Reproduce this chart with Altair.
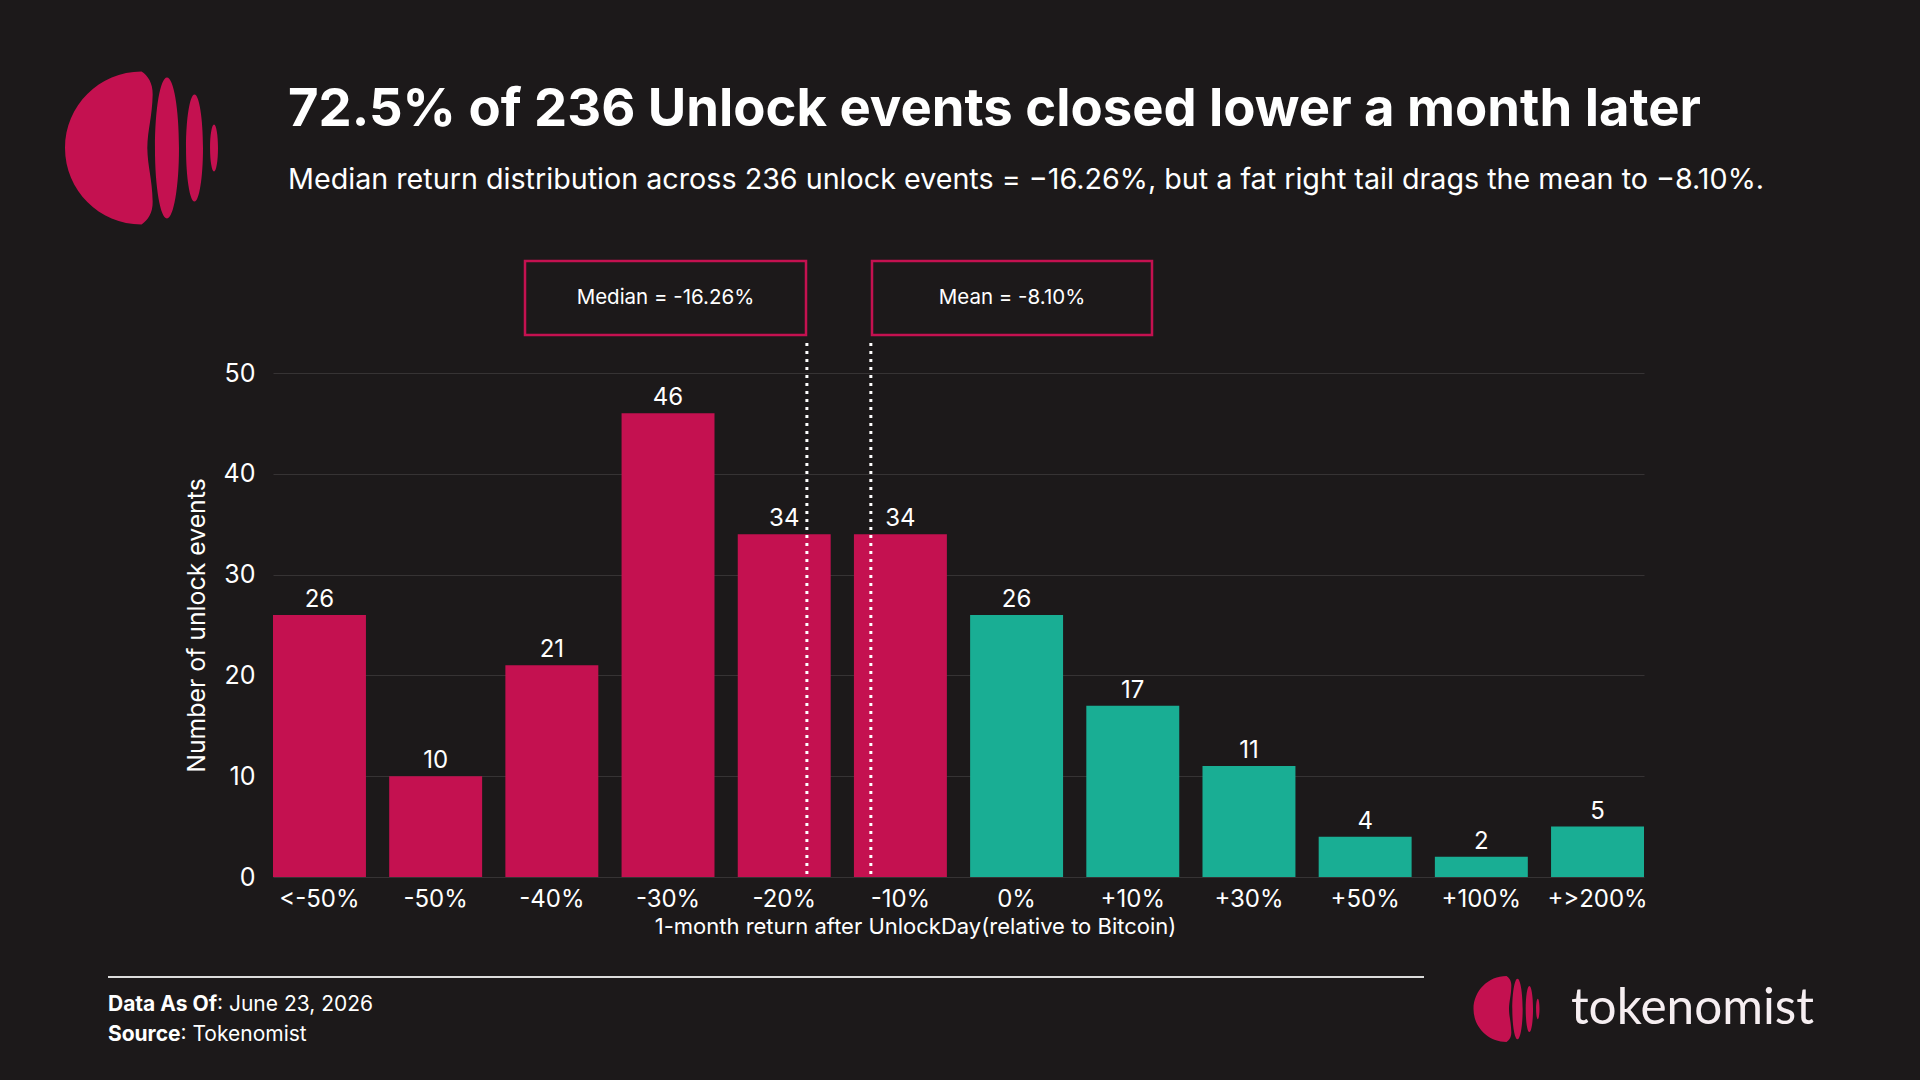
import altair as alt
import pandas as pd

# ---- data -------------------------------------------------------------
categories = ["<-50%", "-50%", "-40%", "-30%", "-20%", "-10%",
              "0%", "+10%", "+30%", "+50%", "+100%", "+>200%"]
counts = [26, 10, 21, 46, 34, 34, 26, 17, 11, 4, 2, 5]
direction = ["down"] * 6 + ["up"] * 6

title_text = ["72.5% of 236 Unlock events closed lower a month later"]
subtitle_text = ["Median return distribution across 236 unlock events = \u221216.26%, "
                 "but a fat right tail drags the mean to \u22128.10%."]
median_label = ["Median = -16.26%"]
mean_label = ["Mean = -8.10%"]
median_bin = ["-20%"]
mean_bin = ["-10%"]
y_ticks = [0, 10, 20, 30, 40, 50]

# ---- style ------------------------------------------------------------
BG = "#1c191a"
PINK = "#c41150"
TEAL = "#19ae94"
WHITE = "#ffffff"
FONT = "Inter"

W, H = 1371, 504
PAD = {"left": 273, "top": 373, "right": 1920 - 273 - W, "bottom": 1080 - 373 - H}

LOGO_PATH = (
    # main disc, cut on the right
    "M 0 -1 C -0.5523 -1 -1 -0.5523 -1 0 C -1 0.5523 -0.5523 1 0 1 "
    "C 0.08 0.95 0.15 0.85 0.146 0.7 C 0.14 0.4 0.08 0.25 0.076 0 "
    "C 0.08 -0.25 0.14 -0.4 0.146 -0.7 C 0.15 -0.85 0.08 -0.95 0 -1 Z "
)


def ellipse(cx, w, h, k=0.5523):
    return (f"M {cx} {-h} C {cx + k * w} {-h} {cx + w} {-k * h} {cx + w} 0 "
            f"C {cx + w} {k * h} {cx + k * w} {h} {cx} {h} "
            f"C {cx - k * w} {h} {cx - w} {k * h} {cx - w} 0 "
            f"C {cx - w} {-k * h} {cx - k * w} {-h} {cx} {-h} Z ")


LOGO_PATH += ellipse(0.333, 0.157, 0.92) + ellipse(0.693, 0.111, 0.70) + ellipse(0.948, 0.052, 0.307)

df = pd.DataFrame({"cat": categories, "count": counts, "dir": direction})

x_scale = alt.Scale(domain=categories, paddingInner=0.2, paddingOuter=0)
x_axis = alt.Axis(
    title="1-month return after UnlockDay(relative to Bitcoin)",
    labelAngle=0, labelFontSize=24, labelColor=WHITE, labelPadding=22,
    labelBaseline="middle", ticks=False, tickSize=0, domain=False, grid=False,
    titleFontSize=22, titleFontWeight="normal", titleColor=WHITE,
    titleX=642, titleY=56, titleBaseline="alphabetic",
)
y_scale = alt.Scale(domain=[0, 50], nice=False)
y_axis = alt.Axis(
    title="Number of unlock events", values=y_ticks,
    labelFontSize=25, labelColor=WHITE, labelPadding=18,
    ticks=False, tickSize=0, domain=False, grid=True,
    gridColor="#363334", gridWidth=1,
    titleFontSize=24.8, titleFontWeight="normal", titleColor=WHITE,
    titleX=-76, titleY=H / 2, titleBaseline="middle", titleAngle=-90,
)

base = alt.Chart(df)

bars = base.mark_bar().encode(
    x=alt.X("cat:N", scale=x_scale, axis=x_axis),
    y=alt.Y("count:Q", scale=y_scale, axis=y_axis),
    color=alt.Color("dir:N", scale=alt.Scale(domain=["down", "up"], range=[PINK, TEAL]), legend=None),
)

values = base.mark_text(font=FONT, fontSize=24, color=WHITE, dy=-8, baseline="alphabetic").encode(
    x=alt.X("cat:N", scale=x_scale, axis=x_axis),
    y=alt.Y("count:Q", scale=y_scale, axis=y_axis),
    text="count:Q",
)


def marker(bin_name, band_pos):
    return alt.Chart(pd.DataFrame({"cat": bin_name})).mark_rule(
        color=WHITE, strokeWidth=3, strokeDash=[3, 5]
    ).encode(
        x=alt.X("cat:N", scale=x_scale, axis=x_axis, bandPosition=band_pos),
        y=alt.value(-30),
        y2=alt.value(H),
    )


median_rule = marker(median_bin, 0.744)
mean_rule = marker(mean_bin, 0.182)


def label_box(text, x0, x1):
    d = pd.DataFrame({"t": text})
    box = alt.Chart(d).mark_rect(fill=BG, stroke=PINK, strokeWidth=2.5).encode(
        x=alt.value(x0), x2=alt.value(x1), y=alt.value(-112), y2=alt.value(-38)
    )
    txt = alt.Chart(d).mark_text(font=FONT, fontSize=20.5, color=WHITE, baseline="middle", align="center").encode(
        x=alt.value((x0 + x1) / 2), y=alt.value(-75), text="t:N"
    )
    return box + txt


median_box = label_box(median_label, 252, 533)
mean_box = label_box(mean_label, 599, 879)


def free_text(text, x, y, size, weight="normal", align="left", font=FONT, color=WHITE):
    return alt.Chart(pd.DataFrame({"t": text})).mark_text(
        font=font, fontSize=size, fontWeight=weight, color=color, align=align, baseline="alphabetic"
    ).encode(x=alt.value(x), y=alt.value(y), text="t:N")


title = free_text(title_text, 15, -247, 52.6, weight="bold")
subtitle = free_text(subtitle_text, 15, -184, 28.7)

logo_big = alt.Chart(pd.DataFrame({"k": [0]})).mark_point(
    shape=LOGO_PATH, filled=True, color=PINK, opacity=1, strokeWidth=0, size=153 * 153
).encode(x=alt.value(-131.5), y=alt.value(-225))

logo_small = alt.Chart(pd.DataFrame({"k": [0]})).mark_point(
    shape=LOGO_PATH, filled=True, color=PINK, opacity=1, strokeWidth=0, size=66 * 66
).encode(x=alt.value(1233.5), y=alt.value(636))

brand = free_text(["tokenomist"], 1298, 651, 49.5, font="Lato", color="#f6eef1")

footer_line = alt.Chart(pd.DataFrame({"k": [0]})).mark_rule(color="#dcdcdc", strokeWidth=2).encode(
    x=alt.value(-165), x2=alt.value(1151), y=alt.value(604)
)

footer = (
    free_text(["Data As Of"], -56, 638, 21, weight="bold", align="right")
    + free_text([": June 23, 2026"], -56, 638, 21)
    + free_text(["Source"], -92.5, 668, 21, weight="bold", align="right")
    + free_text([": Tokenomist"], -92.5, 668, 21)
)

chart = alt.layer(
    bars, values, median_rule, mean_rule, median_box, mean_box,
    title, subtitle, logo_big, logo_small, brand, footer_line, footer,
).properties(
    width=W, height=H, background=BG, padding=PAD,
    autosize=alt.AutoSizeParams(type="none"),
).configure_view(stroke=None).configure_axis(labelFont=FONT, titleFont=FONT)

chart.save("out.html", embed_options={"renderer": "svg", "actions": False})
